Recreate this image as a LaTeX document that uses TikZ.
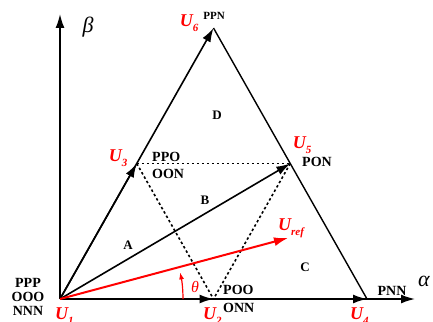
\documentclass[tikz,border=0pt]{standalone}
\usepackage{fontspec}
\setmainfont{Liberation Serif}
\usetikzlibrary{arrows.meta,calc}
\newcommand\ulab[1]{\fontsize{18}{18}\selectfont\bfseries\itshape U\raisebox{-5pt}{\fontsize{11}{11}\selectfont #1}}
\begin{document}
\begin{tikzpicture}[x=1pt,y=-1pt,
  vec/.style={line width=1.6pt,-{Latex[length=14pt,width=9pt]}},
  edge/.style={line width=1.4pt},
  dots/.style={line width=1.6pt,dash pattern=on 2.5pt off 2.5pt},
  st/.style={font=\fontsize{14}{14}\selectfont\bfseries,inner sep=0},
  ul/.style={text=red,inner sep=0},
  reg/.style={font=\fontsize{13}{13}\selectfont\bfseries,inner sep=0},
  gk/.style={font=\fontsize{22}{22}\selectfont\itshape,inner sep=0}]
\useasboundingbox (0,0) rectangle (433,321);
\coordinate (O) at (60,299);
\coordinate (U4) at (367,299);
\coordinate (U6) at (213.5,28);
\coordinate (U2) at (213.5,299);
\coordinate (U3) at (136.75,163.5);
\coordinate (U5) at (290.25,163.5);
\coordinate (Ur) at (288,238);
\coordinate (ax) at (415,299);
\coordinate (ay) at (60,14);
% axes
\draw[vec] (O) -- (ax);
\draw[vec] (O) -- (ay);
% dotted
\draw[dots] (U3) -- (U5);
\draw[dots] (U3) -- (U2);
\draw[dots] (U5) -- (U2);
% triangle and vectors
\draw[edge] (U6) -- (U4);
\draw[vec] (O) -- (U6);
\draw[vec] (O) -- (U3);
\draw[vec] (O) -- (U5);
\draw[vec] (O) -- (U2);
\draw[vec] (O) -- (U4);
% reference vector
\draw[vec,red,line width=2pt] (O) -- (Ur);
\draw[red,line width=1.2pt,-{Latex[length=7pt,width=5pt]}] (O) ++(123pt,0) arc[start angle=0,end angle=12.5,radius=123pt];
\node[text=red,font=\fontsize{16}{16}\selectfont\itshape,inner sep=0] (th) at (195,287) {θ};
% axis labels
\node[gk] (beta) at (88,27) {β};
\node[gk] (alpha) at (424,281) {α};
% states
\node[st,align=center] (zero) at (28,297) {PPP\\[0pt]OOO\\[0pt]NNN};
\node[st,font=\fontsize{11}{11}\selectfont\bfseries] (sPPN) at (214,16) {PPN};
\node[st,anchor=west] (sPPO) at (152,156.5) {PPO};
\node[st,anchor=west] (sOON) at (152,174) {OON};
\node[st] (sPON) at (317,162) {PON};
\node[st,anchor=west] (sPOO) at (223,290) {POO};
\node[st,anchor=west] (sONN) at (223,308) {ONN};
\node[st] (sPNN) at (392,291) {PNN};
% vector labels
\node[ul] (l6) at (189,23) {\ulab{6}};
\node[ul] (l3) at (118,158) {\ulab{3}};
\node[ul] (l5) at (302,145) {\ulab{5}};
\node[ul] (lr) at (291,228) {\ulab{ref}};
\node[ul,anchor=north west] (l1) at (55,308) {\ulab{1}};
\node[ul,anchor=north west] (l2) at (203,308) {\ulab{2}};
\node[ul,anchor=north west] (l4) at (350,308) {\ulab{4}};
% regions
\node[reg] (rA) at (128,245) {A};
\node[reg] (rB) at (205,200) {B};
\node[reg] (rC) at (305,267) {C};
\node[reg] (rD) at (217,115) {D};
\end{tikzpicture}
\end{document}
